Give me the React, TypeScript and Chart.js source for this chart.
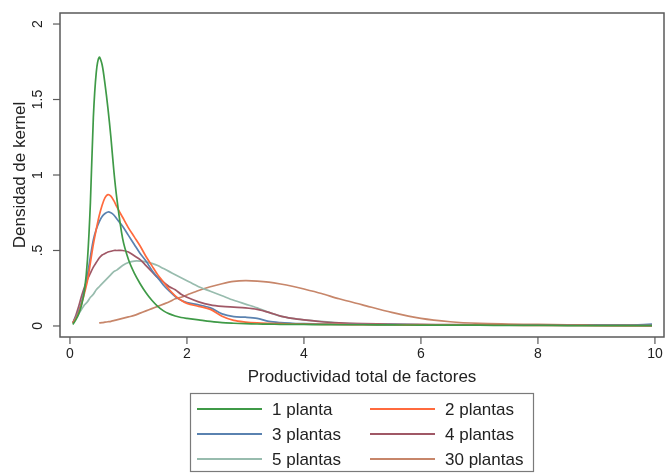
import React, { useEffect, useRef } from "react";
import { Chart, registerables } from "chart.js";

Chart.register(...registerables);

const tfp = [0.05, 0.1, 0.15, 0.2, 0.25, 0.3, 0.35, 0.4, 0.45, 0.5, 0.55, 0.6, 0.65, 0.7, 0.75, 0.8, 0.9, 1.0, 1.1, 1.2, 1.3, 1.4, 1.5, 1.6, 1.7, 1.8, 1.9, 2.0, 2.2, 2.4, 2.6, 2.8, 3.0, 3.2, 3.4, 3.6, 3.8, 4.0, 4.3, 4.6, 5.0, 5.5, 6.0, 6.5, 7.0, 7.5, 8.0, 8.5, 9.0, 9.5, 9.95];

const planta1 = [0.01, 0.04, 0.08, 0.14, 0.24, 0.44, 0.82, 1.38, 1.68, 1.78, 1.73, 1.6, 1.44, 1.25, 1.03, 0.85, 0.58, 0.44, 0.35, 0.28, 0.22, 0.17, 0.13, 0.1, 0.08, 0.066, 0.056, 0.05, 0.04, 0.03, 0.022, 0.018, 0.015, 0.013, 0.012, 0.011, 0.01, 0.01, 0.009, 0.008, 0.008, 0.007, 0.006, 0.005, 0.005, 0.004, 0.004, 0.003, 0.003, 0.002, 0.002];
const plantas2 = [0.02, 0.05, 0.09, 0.15, 0.22, 0.3, 0.42, 0.54, 0.64, 0.73, 0.8, 0.85, 0.87, 0.86, 0.83, 0.79, 0.72, 0.65, 0.59, 0.53, 0.46, 0.4, 0.34, 0.29, 0.24, 0.2, 0.17, 0.15, 0.13, 0.11, 0.065, 0.037, 0.026, 0.02, 0.017, 0.015, 0.013, 0.012, 0.011, 0.01, 0.009, 0.008, 0.007, 0.006, 0.005, 0.005, 0.004, 0.004, 0.003, 0.003, 0.002];
const plantas3 = [0.02, 0.06, 0.1, 0.16, 0.24, 0.34, 0.46, 0.57, 0.64, 0.69, 0.725, 0.745, 0.755, 0.75, 0.735, 0.71, 0.66, 0.6, 0.54, 0.48, 0.43, 0.37, 0.32, 0.27, 0.23, 0.195, 0.17, 0.155, 0.14, 0.12, 0.08, 0.062, 0.058, 0.05, 0.03, 0.022, 0.018, 0.015, 0.013, 0.011, 0.01, 0.009, 0.008, 0.007, 0.006, 0.006, 0.005, 0.005, 0.005, 0.006, 0.012];
const plantas4 = [0.02, 0.07, 0.13, 0.2, 0.26, 0.31, 0.35, 0.39, 0.42, 0.45, 0.47, 0.48, 0.49, 0.495, 0.5, 0.5, 0.5, 0.49, 0.465, 0.44, 0.4, 0.36, 0.32, 0.29, 0.26, 0.24, 0.21, 0.19, 0.16, 0.14, 0.13, 0.125, 0.12, 0.11, 0.09, 0.065, 0.05, 0.04, 0.028, 0.02, 0.015, 0.012, 0.01, 0.009, 0.008, 0.008, 0.007, 0.006, 0.005, 0.004, 0.003];
const plantas5 = [0.02, 0.05, 0.08, 0.11, 0.14, 0.16, 0.19, 0.21, 0.24, 0.26, 0.28, 0.3, 0.32, 0.34, 0.36, 0.37, 0.4, 0.42, 0.43, 0.43, 0.425, 0.415, 0.4, 0.38, 0.36, 0.34, 0.32, 0.3, 0.26, 0.23, 0.2, 0.17, 0.145, 0.12, 0.09, 0.065, 0.05, 0.04, 0.03, 0.02, 0.012, 0.009, 0.008, 0.007, 0.006, 0.005, 0.005, 0.004, 0.004, 0.003, 0.003];
const plantas30 = [null, null, null, null, null, null, null, null, null, 0.02, 0.022, 0.025, 0.028, 0.031, 0.035, 0.04, 0.05, 0.06, 0.07, 0.085, 0.1, 0.115, 0.13, 0.145, 0.16, 0.18, 0.19, 0.205, 0.235, 0.26, 0.28, 0.295, 0.3, 0.297, 0.29, 0.278, 0.263, 0.245, 0.215, 0.18, 0.14, 0.09, 0.05, 0.028, 0.017, 0.013, 0.01, 0.008, 0.006, 0.005, 0.004];

const seriesLabels = ["1 planta", "2 plantas", "3 plantas", "4 plantas", "5 plantas", "30 plantas"];
const seriesValues = [planta1, plantas2, plantas3, plantas4, plantas5, plantas30];
const seriesColors = ["#3f9a47", "#ff6a3d", "#5a82b0", "#a05866", "#98bcae", "#c7866a"];

const xTicks = [0, 2, 4, 6, 8, 10];
const yTicks = [0, 0.5, 1, 1.5, 2];
const xTitle = "Productividad total de factores";
const yTitle = "Densidad de kernel";

const FONT = "'Liberation Sans', Arial, Helvetica, sans-serif";

const fmtY = (v: number) => (v === 0 ? "0" : v < 1 ? String(v).replace(/^0/, "") : String(v));

const decorPlugin = {
  id: "stataDecor",
  afterDraw(chart: any) {
    const ctx = chart.ctx as CanvasRenderingContext2D;
    const area = chart.chartArea;
    const xs = chart.scales.x;
    const ys = chart.scales.y;
    ctx.save();
    ctx.strokeStyle = "#5a5a5a";
    ctx.lineWidth = 1.5;
    ctx.strokeRect(area.left, area.top, area.right - area.left, area.bottom - area.top);
    ctx.fillStyle = "#222";
    ctx.font = `14px ${FONT}`;
    ctx.textAlign = "center";
    ctx.textBaseline = "middle";
    ctx.lineWidth = 1.2;
    for (const v of xTicks) {
      const px = xs.getPixelForValue(v);
      ctx.beginPath();
      ctx.moveTo(px, area.bottom);
      ctx.lineTo(px, area.bottom + 7);
      ctx.stroke();
      ctx.fillText(String(v), px, area.bottom + 17);
    }
    for (const v of yTicks) {
      const py = ys.getPixelForValue(v);
      ctx.beginPath();
      ctx.moveTo(area.left, py);
      ctx.lineTo(area.left - 7, py);
      ctx.stroke();
      ctx.save();
      ctx.translate(area.left - 22, py);
      ctx.rotate(-Math.PI / 2);
      ctx.fillText(fmtY(v), 0, 0);
      ctx.restore();
    }
    ctx.font = `17px ${FONT}`;
    ctx.fillText(xTitle, (area.left + area.right) / 2, area.bottom + 40);
    ctx.save();
    ctx.translate(20, (area.top + area.bottom) / 2);
    ctx.rotate(-Math.PI / 2);
    ctx.fillText(yTitle, 0, 0);
    ctx.restore();
    const lx = 190, ly = 393, lw = 343, lh = 78;
    ctx.strokeStyle = "#7a7a7a";
    ctx.lineWidth = 1.2;
    ctx.strokeRect(lx + 0.5, ly + 0.5, lw, lh);
    const rows = [409, 434, 459];
    const cols = [197, 370];
    ctx.textAlign = "left";
    chart.data.datasets.forEach((ds: any, i: number) => {
      const r = Math.floor(i / 2);
      const c = i % 2;
      const x0 = cols[c];
      const y0 = rows[r];
      ctx.strokeStyle = ds.borderColor;
      ctx.lineWidth = 2;
      ctx.beginPath();
      ctx.moveTo(x0, y0);
      ctx.lineTo(x0 + 65, y0);
      ctx.stroke();
      ctx.fillStyle = "#222";
      ctx.fillText(ds.label, x0 + 75, y0 + 1);
    });
    ctx.restore();
  },
};

export default function App() {
  const canvasRef = useRef<HTMLCanvasElement | null>(null);

  useEffect(() => {
    document.body.style.margin = "0";
    const canvas = canvasRef.current;
    if (!canvas) return;
    const chart = new Chart(canvas, {
      type: "line",
      data: {
        labels: tfp,
        datasets: seriesLabels.map((label, i) => ({
          label,
          data: tfp.map((x, j) => ({ x, y: seriesValues[i][j] })),
          borderColor: seriesColors[i],
          backgroundColor: seriesColors[i],
          borderWidth: 1.7,
          pointRadius: 0,
          fill: false,
          tension: 0.3,
          spanGaps: false,
        })),
      },
      options: {
        animation: false,
        responsive: false,
        maintainAspectRatio: false,
        layout: { padding: { left: 60, top: 13, right: 1, bottom: 136 } },
        plugins: {
          legend: { display: false },
          tooltip: { enabled: false },
          title: { display: false },
        },
        scales: {
          x: { type: "linear", display: false, min: -0.17, max: 10.155 },
          y: { type: "linear", display: false, min: -0.073, max: 2.073 },
        },
      },
      plugins: [decorPlugin],
    });
    return () => chart.destroy();
  }, []);

  return (
    <div style={{ position: "fixed", left: 0, top: 0, width: 665, height: 473, background: "#fff" }}>
      <canvas ref={canvasRef} width={665} height={473} style={{ width: 665, height: 473, display: "block" }} />
    </div>
  );
}
